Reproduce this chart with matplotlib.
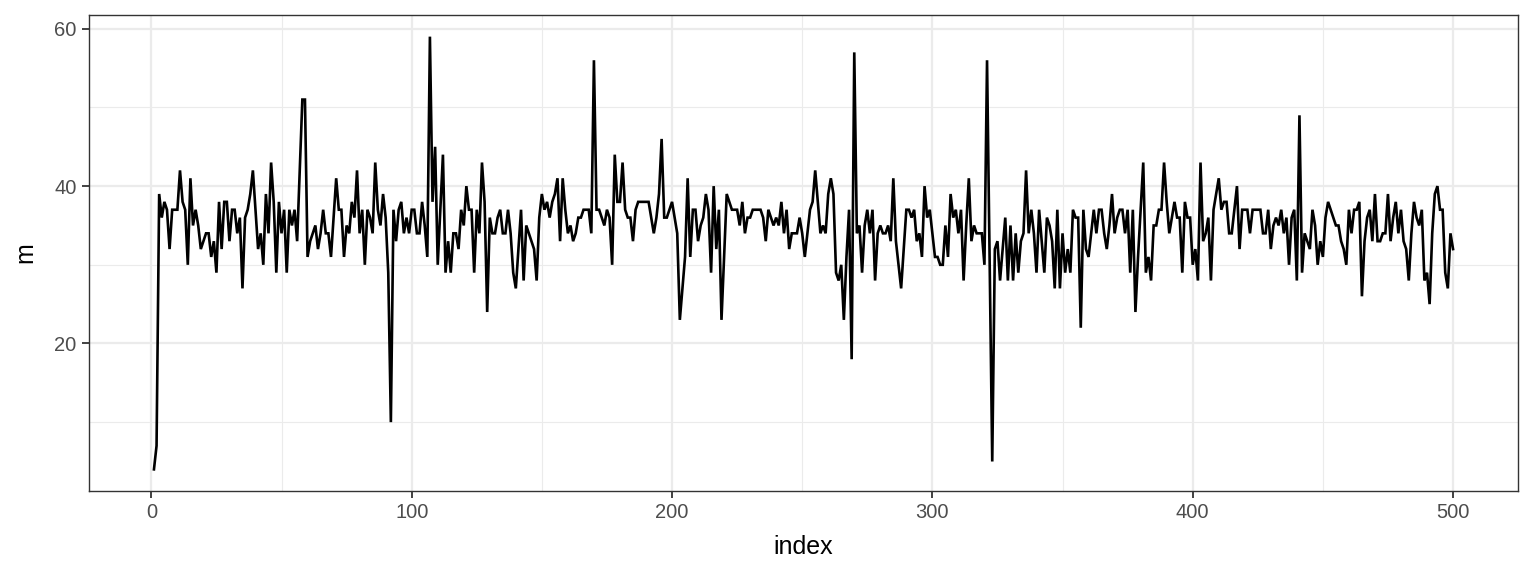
import matplotlib
matplotlib.use('Agg')
import matplotlib.pyplot as plt
from matplotlib.ticker import MultipleLocator

# values, index 1..500
m_01_44 = [4, 7, 39, 36, 38, 37, 32, 37, 37, 37, 42, 38, 37, 30, 41, 35, 37, 35, 32, 33,
           34, 34, 31, 33, 29, 38, 32, 38, 38, 33, 37, 37, 34, 36, 27, 36, 37, 39, 42, 37,
           32, 34, 30, 39]
m_45_89 = [34, 43, 38, 29, 38, 34, 37, 29, 37, 35, 37, 33, 42, 51, 51, 31, 33, 34, 35, 32,
           34, 37, 34, 34, 31, 36, 41, 37, 37, 31, 35, 34, 38, 36, 42, 34, 37, 30, 37, 36,
           34, 43, 37, 35, 39]
m_90_133 = [36, 29, 10, 37, 33, 37, 38, 34, 36, 34, 37, 37, 34, 34, 38, 35, 31, 59, 38, 45,
            30, 37, 44, 29, 33, 29, 34, 34, 32, 37, 35, 40, 37, 37, 29, 37, 34, 43, 38, 24,
            36, 34, 34, 36]
m_134_181 = [37, 34, 34, 37, 34, 29, 27, 32, 37, 28, 35, 34, 33, 32, 28, 36, 39, 37, 38, 36,
             38, 39, 41, 33, 41, 37, 34, 35, 33, 34, 36, 36, 37, 37, 37, 34, 56, 37, 37, 36,
             35, 37, 36, 30, 44, 38, 38, 43]
m_182_227 = [37, 36, 36, 33, 37, 38, 38, 38, 38, 38, 36, 34, 36, 39, 46, 36, 36, 37, 38, 36,
             34, 23, 27, 31, 41, 31, 37, 37, 33, 35, 36, 39, 37, 29, 40, 32, 37, 23, 31, 39,
             38, 37, 37, 37, 35, 38]
m_228_273 = [34, 36, 36, 37, 37, 37, 37, 36, 33, 37, 36, 35, 36, 35, 38, 34, 37, 32, 34, 34,
             34, 36, 34, 31, 34, 37, 38, 42, 38, 34, 35, 34, 39, 41, 39, 29, 28, 30, 23, 31,
             37, 18, 57, 34, 35, 29]
m_274_319 = [35, 37, 34, 37, 28, 34, 35, 34, 34, 35, 33, 41, 33, 30, 27, 32, 37, 37, 36, 37,
             33, 34, 31, 40, 36, 37, 34, 31, 31, 30, 30, 35, 31, 39, 36, 37, 34, 37, 28, 35,
             41, 33, 35, 34, 34, 34]
m_320_365 = [30, 56, 31, 5, 32, 33, 28, 32, 36, 28, 35, 28, 34, 29, 33, 34, 42, 34, 37, 34,
             29, 37, 33, 29, 36, 35, 33, 27, 37, 27, 34, 29, 32, 29, 37, 36, 36, 22, 37, 32,
             31, 34, 37, 34, 37, 37]
m_366_408 = [34, 32, 35, 39, 34, 36, 37, 37, 34, 37, 29, 37, 24, 31, 37, 43, 29, 31, 28, 35,
             35, 37, 37, 43, 38, 34, 36, 38, 36, 36, 29, 38, 36, 36, 30, 32, 28, 43, 33, 34,
             36, 28, 37]
m_409_455 = [39, 41, 37, 38, 38, 34, 34, 37, 40, 32, 37, 37, 37, 34, 37, 37, 37, 37, 34, 34,
             37, 32, 35, 36, 35, 37, 34, 36, 30, 36, 37, 28, 49, 29, 34, 33, 32, 37, 35, 30,
             33, 31, 36, 38, 37, 36, 35]
m_456_500 = [35, 33, 32, 30, 37, 34, 37, 37, 38, 26, 33, 36, 37, 33, 39, 33, 33, 34, 34, 39,
             33, 36, 38, 34, 37, 33, 32, 28, 34, 38, 36, 35, 37, 28, 29, 25, 34, 39, 40, 37,
             37, 29, 27, 34, 32]

m = (m_01_44 + m_45_89 + m_90_133 + m_134_181 + m_182_227 + m_228_273 + m_274_319
     + m_320_365 + m_366_408 + m_409_455 + m_456_500)
index = list(range(1, len(m) + 1))

plt.rcParams['font.family'] = ['Liberation Sans', 'DejaVu Sans']

fig = plt.figure(figsize=(15.36, 5.76), dpi=100)
ax = fig.add_axes([89 / 1536, 1 - 491 / 576, (1518 - 89) / 1536, (491 - 15) / 576])

ax.plot(index, m, color='black', linewidth=1.9, solid_joinstyle='miter', zorder=3)

xpad = (max(index) - min(index)) * 0.05
ypad = (max(m) - min(m)) * 0.05
ax.set_xlim(min(index) - xpad, max(index) + xpad)
ax.set_ylim(min(m) - ypad, max(m) + ypad)

ax.xaxis.set_major_locator(MultipleLocator(100))
ax.xaxis.set_minor_locator(MultipleLocator(50))
ax.yaxis.set_major_locator(MultipleLocator(20))
ax.yaxis.set_minor_locator(MultipleLocator(10))

ax.grid(which='major', color='#EBEBEB', linewidth=1.6, zorder=0)
ax.grid(which='minor', color='#EBEBEB', linewidth=0.8, zorder=0)
ax.set_axisbelow(True)

for s in ax.spines.values():
    s.set_color('#333333')
    s.set_linewidth(1.0)

ax.tick_params(which='major', length=5, width=1.3, color='#333333',
               labelcolor='#4D4D4D', labelsize=14.5, pad=4)
ax.tick_params(which='minor', length=0)

ax.set_xlabel('index', fontsize=18, color='black', labelpad=9)
ax.set_ylabel('m', fontsize=18, color='black', labelpad=12)

fig.savefig('out.png', dpi=100)
